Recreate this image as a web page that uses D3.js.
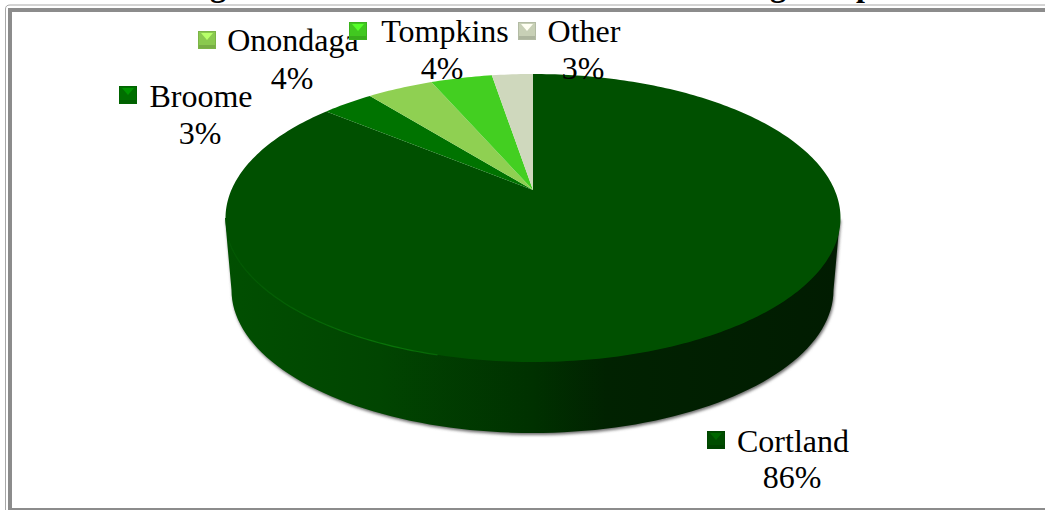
<!DOCTYPE html>
<html>
<head>
<meta charset="utf-8">
<script src="https://cdnjs.cloudflare.com/ajax/libs/d3/7.8.5/d3.min.js"></script>
<style>
  html, body { margin: 0; padding: 0; background: #fff; overflow: hidden; }
  svg { display: block; }
  text { font-family: "Liberation Serif", serif; fill: #000; }
</style>
</head>
<body>
<div id="chart"></div>
<script>
// 数据
const categories = ['Cortland', 'Broome', 'Onondaga', 'Tompkins', 'Other'];
const shares = [86, 3.3, 4.2, 3.9, 2.6];
const colors = ['#005000', '#007300', '#8fd052', '#43cf21', '#cfd8bd'];

// 标题在截图上方被裁掉，只剩下这几个字母的下伸部分
const titleGlyphs = ['g', 'g', 'p'];
const titleGlyphX = [218, 778, 865];

// label layout, same order as categories
const labelX = [793, 201, 293, 445, 584];
const labelY = [452, 107, 51, 42, 42];
const percentX = [792, 200, 292, 442, 583];
const percentY = [488, 144, 89, 79, 79];
const swatchX = [707, 119, 198, 349, 518];
const swatchY = [431, 86, 31, 22, 22];

const W = 1045,
  H = 510;

const svg = d3
  .select('#chart')
  .append('svg')
  .attr('width', W)
  .attr('height', H);

const defs = svg.append('defs');

// wall shading
const wallStops = [
  [0, '#014f01'],
  [0.25, '#014501'],
  [0.5, '#003100'],
  [0.62, '#012201'],
  [1, '#011c01'],
];
const wallGrad = defs
  .append('linearGradient')
  .attr('id', 'wall')
  .attr('x1', 0)
  .attr('x2', 1)
  .attr('y1', 0)
  .attr('y2', 0);
wallGrad
  .selectAll('stop')
  .data(wallStops)
  .enter()
  .append('stop')
  .attr('offset', (d) => d[0])
  .attr('stop-color', (d) => d[1]);

const rimGrad = defs
  .append('linearGradient')
  .attr('id', 'rim')
  .attr('gradientUnits', 'userSpaceOnUse')
  .attr('x1', 225)
  .attr('x2', 530)
  .attr('y1', 0)
  .attr('y2', 0);
rimGrad
  .append('stop')
  .attr('offset', 0)
  .attr('stop-color', '#0a7a0a')
  .attr('stop-opacity', 0.2);
rimGrad
  .append('stop')
  .attr('offset', 0.55)
  .attr('stop-color', '#0a7a0a')
  .attr('stop-opacity', 0.9);
rimGrad
  .append('stop')
  .attr('offset', 1)
  .attr('stop-color', '#0a7a0a')
  .attr('stop-opacity', 0);

defs
  .append('filter')
  .attr('id', 'soft')
  .attr('x', '-5%')
  .attr('y', '-5%')
  .attr('width', '110%')
  .attr('height', '110%')
  .append('feGaussianBlur')
  .attr('stdDeviation', 1.6);

// frame
const initFrame = () => {
  svg
    .append('path')
    .attr('d', `M5.5,${H} V9 Q5.5,5 10,5 H${W}`)
    .attr('fill', 'none')
    .attr('stroke', '#a8a8a8');
  svg
    .append('path')
    .attr('d', `M10,${H} V10 H${W}`)
    .attr('fill', 'none')
    .attr('stroke', '#8c8c8c')
    .attr('stroke-width', 4);
  svg
    .append('rect')
    .attr('x', 8)
    .attr('y', H - 2)
    .attr('width', W - 8)
    .attr('height', 2)
    .attr('fill', '#8c8c8c');
};

svg
  .selectAll('text.title-glyph')
  .data(titleGlyphs)
  .enter()
  .append('text')
  .attr('class', 'title-glyph')
  .attr('x', (_, i) => titleGlyphX[i])
  .attr('y', -4)
  .attr('text-anchor', 'middle')
  .style('font-size', '32px')
  .style('font-weight', 'bold')
  .text((d) => d);

initFrame();

// pie geometry: the tilted disc is an ellipse, the apex sits above its centre
const apex = [533, 190],
  backDist = 116,
  frontDist = 172,
  rx = 307.5;
const ry = (backDist + frontDist) / 2,
  cy = apex[1] + (frontDist - backDist) / 2,
  cx = apex[0] - 0.5;
const k = (frontDist - backDist) / (frontDist + backDist),
  b = backDist * (1 + k),
  a = rx * Math.sqrt(1 - ((cy - apex[1]) / ry) ** 2);

// clockwise from 12 o'clock, with perspective
const project = (t) => {
  const d = 1 + k * Math.cos(t);
  return [
    apex[0] + (a * Math.sin(t)) / d,
    apex[1] - (b * Math.cos(t)) / d,
  ];
};

const line = d3.line();
const arcs = d3
  .pie()
  .sort(null)
  .value((d) => d)(shares);

const wallDepth = 72,
  wallRx = 301,
  wallRy = 143;
const wallPoints = [[cx - rx, cy]]
  .concat(
    d3.range(0, 181, 2).map((deg) => {
      const t = (deg * Math.PI) / 180;
      return [
        cx - wallRx * Math.cos(t),
        cy + wallDepth + wallRy * Math.sin(t),
      ];
    })
  )
  .concat([[cx + rx, cy]]);

const pieG = svg.append('g');

pieG
  .append('path')
  .attr('d', line(wallPoints.map((p) => [p[0] + 1, p[1] + 2])) + 'Z')
  .attr('fill', '#6e6e6e')
  .attr('filter', 'url(#soft)');

pieG
  .append('path')
  .attr('d', line(wallPoints) + 'Z')
  .attr('fill', 'url(#wall)');

pieG
  .selectAll('path.slice')
  .data(arcs)
  .enter()
  .append('path')
  .attr('class', 'slice')
  .attr('fill', (_, i) => colors[i])
  .attr('d', (d) => {
    const n = Math.ceil(((d.endAngle - d.startAngle) * 180) / Math.PI);
    const pts = d3
      .range(n + 1)
      .map((j) =>
        project(d.startAngle + ((d.endAngle - d.startAngle) * j) / n)
      );
    return line([apex].concat(pts)) + 'Z';
  });

// thin highlight along the front-left edge
const rimPoints = d3
  .range(198, 262)
  .map((deg) => [
    cx + rx * Math.sin((deg * Math.PI) / 180),
    cy - ry * Math.cos((deg * Math.PI) / 180),
  ]);
pieG
  .append('path')
  .attr('d', line(rimPoints))
  .attr('fill', 'none')
  .attr('stroke', 'url(#rim)')
  .attr('stroke-width', 1.2);

// labels
const labelG = svg.append('g');

labelG
  .selectAll('text.name')
  .data(categories)
  .enter()
  .append('text')
  .attr('class', 'name')
  .attr('x', (_, i) => labelX[i])
  .attr('y', (_, i) => labelY[i])
  .attr('text-anchor', 'middle')
  .style('font-size', '32px')
  .text((d) => d);

labelG
  .selectAll('text.value')
  .data(shares)
  .enter()
  .append('text')
  .attr('class', 'value')
  .attr('x', (_, i) => percentX[i])
  .attr('y', (_, i) => percentY[i])
  .attr('text-anchor', 'middle')
  .style('font-size', '32px')
  .text((d) => Math.round(d) + '%');

// bevelled legend keys
const size = 18;
const swatch = labelG
  .selectAll('g.swatch')
  .data(categories)
  .enter()
  .append('g')
  .attr('class', 'swatch')
  .attr('transform', (_, i) => `translate(${swatchX[i]},${swatchY[i]})`);

swatch
  .append('rect')
  .attr('width', size)
  .attr('height', size)
  .attr('fill', (_, i) => d3.color(colors[i]).darker(0.1));
swatch
  .append('path')
  .attr('d', `M3,2 H${size - 3} L${size / 2},${size / 2} Z`)
  .attr('fill', (_, i) => d3.color(colors[i]).brighter(0.7));
swatch
  .append('rect')
  .attr('x', 1)
  .attr('y', size - 4)
  .attr('width', size - 2)
  .attr('height', 3)
  .attr('fill', (_, i) => d3.color(colors[i]).darker(0.5));
swatch
  .append('rect')
  .attr('width', size - 1)
  .attr('height', size - 1)
  .attr('x', 0.5)
  .attr('y', 0.5)
  .attr('fill', 'none')
  .attr('stroke', (_, i) => d3.color(colors[i]).darker(0.4));
</script>
</body>
</html>
